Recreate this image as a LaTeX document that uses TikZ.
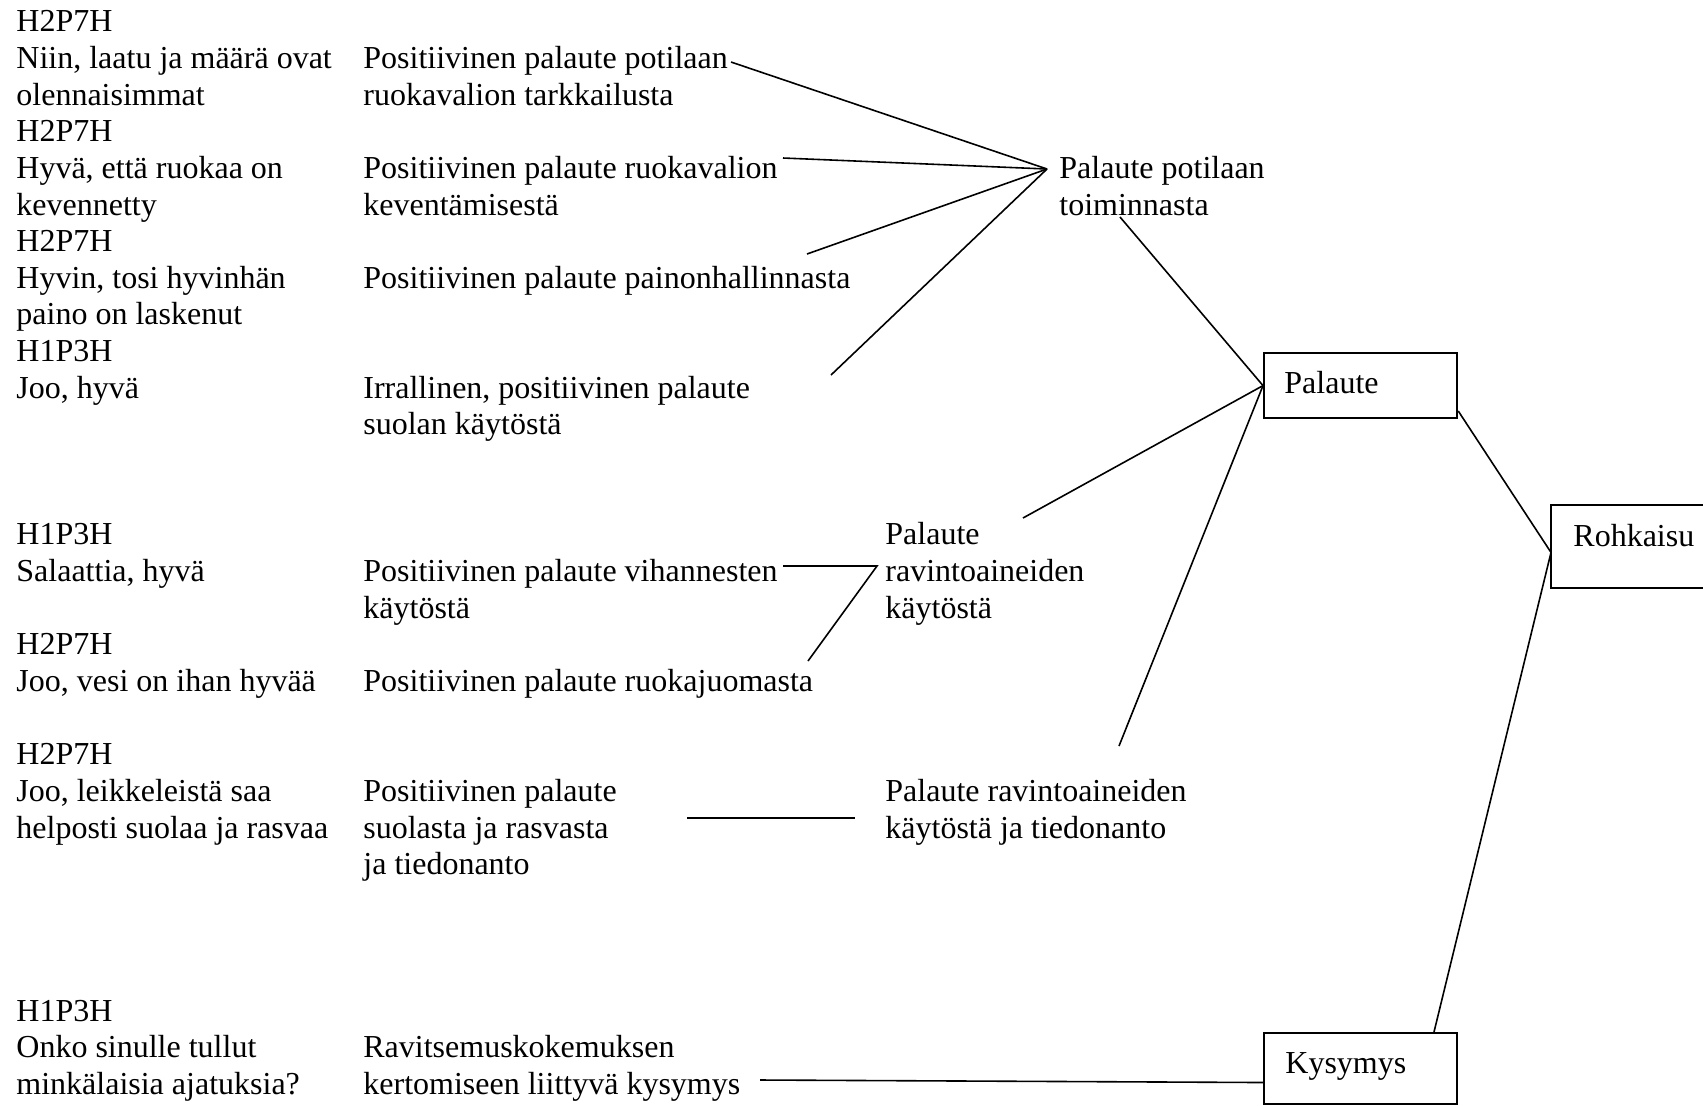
\documentclass[tikz,border=0pt]{standalone}
\usepackage{fontspec}
\setmainfont{Liberation Serif}
\usetikzlibrary{calc}
\tikzset{
  txt/.style={anchor=base west, inner sep=0pt, align=left, font=\fontsize{16pt}{18.325pt}\selectfont},
  conn/.style={line width=0.8pt},
  boxshape/.style={draw, line width=1.1pt, rectangle, inner sep=0pt, anchor=north west},
  boxline/.style={line width=1.1pt},
}
\begin{document}
\begin{tikzpicture}[x=0.5pt,y=-0.5pt]
\useasboundingbox (0,0) rectangle (1703,1105);

% left column: codes and quotes (anchored at the baseline of the last line)
\node[txt] (q1) at (16,105.0) {H2P7H\\Niin, laatu ja määrä ovat\\olennaisimmat};
\node[txt] (q2) at (16,215.0) {H2P7H\\Hyvä, että ruokaa on\\kevennetty};
\node[txt] (q3) at (16,324.9) {H2P7H\\Hyvin, tosi hyvinhän\\paino on laskenut};
\node[txt] (q4) at (16,398.2) {H1P3H\\Joo, hyvä};
\node[txt] (q5) at (16,581.5) {H1P3H\\Salaattia, hyvä};
\node[txt] (q6) at (16,691.4) {H2P7H\\Joo, vesi on ihan hyvää};
\node[txt] (q7) at (16,838.0) {H2P7H\\Joo, leikkeleistä saa\\helposti suolaa ja rasvaa};
\node[txt] (q8) at (16,1094.6) {H1P3H\\Onko sinulle tullut\\minkälaisia ajatuksia?};

% second column
\node[txt] (s1) at (363,105.0) {Positiivinen palaute potilaan\\ruokavalion tarkkailusta};
\node[txt] (s2) at (363,215.0) {Positiivinen palaute ruokavalion\\keventämisestä};
\node[txt] (s3) at (363,288.3) {Positiivinen palaute painonhallinnasta};
\node[txt] (s4) at (363,434.9) {Irrallinen, positiivinen palaute\\suolan käytöstä};
\node[txt] (s5) at (363,618.1) {Positiivinen palaute vihannesten\\käytöstä};
\node[txt] (s6) at (363,691.4) {Positiivinen palaute ruokajuomasta};
\node[txt] (s7) at (363,874.7) {Positiivinen palaute\\suolasta ja rasvasta\\ja tiedonanto};
\node[txt] (s8) at (363,1094.6) {Ravitsemuskokemuksen\\kertomiseen liittyvä kysymys};

% third column
\node[txt] (t1) at (1059,215.0) {Palaute potilaan\\toiminnasta};
\node[txt] (t2) at (885,618.1) {Palaute\\ravintoaineiden\\käytöstä};
\node[txt] (t3) at (885,838.0) {Palaute ravintoaineiden\\käytöstä ja tiedonanto};

% boxes
\node[boxshape, minimum width=96.5pt, minimum height=32.5pt] (palaute) at (1263,352) {};
\node[txt] (palauteT) at (1284,393) {Palaute};
\node[boxshape, draw=none, minimum width=76pt, minimum height=40.5pt] (rohk) at (1551,505) {};
\draw[boxline] ([xshift=3pt]rohk.north east) -- (rohk.north west) -- (rohk.south west) -- ([xshift=3pt]rohk.south east);
\node[txt] (rohkT) at (1573,546) {Rohkaisu};
\node[boxshape, minimum width=96.5pt, minimum height=35.5pt] (kys) at (1263,1032) {};
\node[txt] (kysT) at (1285,1073) {Kysymys};

% free ends
\coordinate (hubA) at (1047,169);
\coordinate (a1) at (731,62);
\coordinate (a2) at (783,158);
\coordinate (a3) at (807,254);
\coordinate (a4) at (831,375);
\coordinate (b1) at (1120,217);
\coordinate (b2) at (1023,518);
\coordinate (b3) at (1119,746);
\coordinate (c1) at (783,566);
\coordinate (c2) at (877,566);
\coordinate (c3) at (808,661);
\coordinate (d1) at (687,818);
\coordinate (d2) at (855,818);
\coordinate (e1) at (760,1080);
\coordinate (rk) at ($(rohk.north west)!0.57!(rohk.south west)$);

% connectors
\draw[conn] (a1) -- (hubA);
\draw[conn] (a2) -- (hubA);
\draw[conn] (a3) -- (hubA);
\draw[conn] (a4) -- (hubA);
\draw[conn] (b1) -- (palaute.west);
\draw[conn] (b2) -- (palaute.west);
\draw[conn] (b3) -- (palaute.west);
\draw[conn] (c1) -- (c2) -- (c3);
\draw[conn] (d1) -- (d2);
\draw[conn] ($(palaute.north east)!0.877!(palaute.south east)$) -- (rk);
\draw[conn] (rk) -- ($(kys.north west)!0.876!(kys.north east)$);
\draw[conn] (e1) -- ($(kys.north west)!0.69!(kys.south west)$);
\end{tikzpicture}
\end{document}
